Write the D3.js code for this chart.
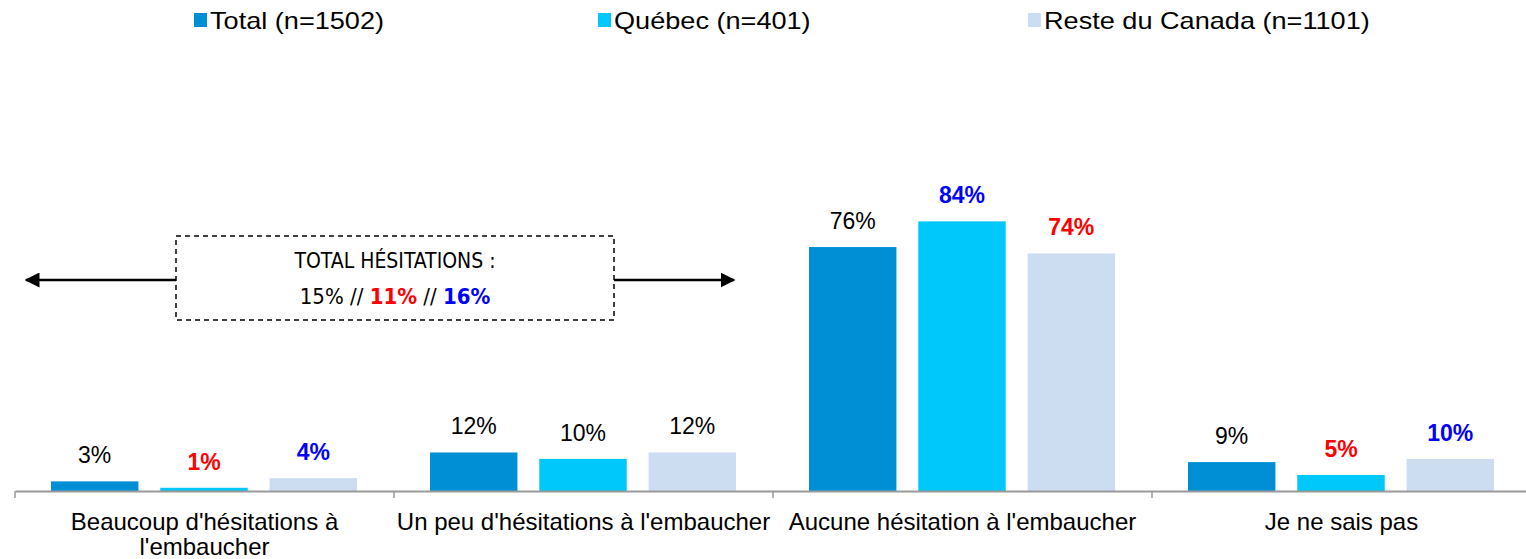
<!DOCTYPE html>
<html>
<head>
<meta charset="utf-8">
<script src="https://cdn.jsdelivr.net/npm/d3@7"></script>
<style>
  body { margin: 0; background: #fff; }
  text { font-family: "Liberation Sans", Arial, sans-serif; }
</style>
</head>
<body>
<svg class="chart"></svg>
<script>
// data
const categories = [
  "Beaucoup d'hésitations à l'embaucher",
  "Un peu d'hésitations à l'embaucher",
  "Aucune hésitation à l'embaucher",
  "Je ne sais pas"
];
const series = ["Total (n=1502)", "Québec (n=401)", "Reste du Canada (n=1101)"];
const total = [3, 12, 76, 9];
const quebec = [1, 10, 84, 5];
const resteCanada = [4, 12, 74, 10];
// significance of each label: 0 = none, -1 = lower (red), 1 = higher (blue)
const signifQuebec = [-1, 0, 1, -1];
const signifReste = [1, 0, -1, 1];
const hesitationTotals = ["15%", "11%", "16%"];
const hesitationSignif = [0, -1, 1];

const values = [total, quebec, resteCanada];
const signif = [[0, 0, 0, 0], signifQuebec, signifReste];

const width = 1526;
const height = 559;
const baseline = 491;

const colors = ["#008fd5", "#00c8fa", "#ccddf2"];
const sigColor = v => v < 0 ? "#ff0000" : v > 0 ? "#0000ff" : "#000";

const svg = d3.select(".chart")
    .attr("width", width)
    .attr("height", height);

let x0 = d3.scaleBand()
    .domain(categories)
    .range([15, 1531]);

let x1 = d3.scaleBand()
    .domain(series)
    .range([35, 341])
    .paddingInner(0.2);

let y = d3.scaleLinear()
    .domain([0, 100])
    .range([baseline, 170]);

// legend
const legendX = [194, 598, 1028];
const legend = svg.selectAll('.legend')
    .data(series)
  .enter().append('g')
    .attr('class', 'legend')
    .attr('transform', (d, i) => `translate(${legendX[i]},0)`);

legend.append('rect')
    .attr('y', 13)
    .attr('width', 13)
    .attr('height', 14)
    .attr('fill', (d, i) => colors[i]);

// the legend text is a bit stretched sideways in the original
legend.append('text')
    .attr('transform', 'translate(16,29) scale(1.13,1)')
    .style('font-size', '24px')
    .text(d => d);

// bars
const rows = categories.map((c, ci) => ({
  cat: c,
  bars: series.map((s, si) => ({ s, si, v: values[si][ci], sig: signif[si][ci] }))
}));

const group = svg.selectAll('.group')
    .data(rows)
  .enter().append('g')
    .attr('class', 'group')
    .attr('transform', d => `translate(${x0(d.cat) + 1},0)`);

group.selectAll('rect')
    .data(d => d.bars)
  .enter().append('rect')
    .attr('x', d => x1(d.s))
    .attr('y', d => y(d.v))
    .attr('width', x1.bandwidth())
    .attr('height', d => baseline - y(d.v))
    .attr('fill', d => colors[d.si]);

group.selectAll('.value')
    .data(d => d.bars)
  .enter().append('text')
    .attr('class', 'value')
    .attr('x', d => x1(d.s) + x1.bandwidth() / 2)
    .attr('y', d => y(d.v) - 18)
    .attr('text-anchor', 'middle')
    .style('font-size', '23px')
    .style('font-weight', d => d.sig ? 'bold' : 'normal')
    .attr('fill', d => sigColor(d.sig))
    .text(d => d.v + '%');

// x axis
const xAxis = d3.axisBottom(x0).tickSize(0).tickFormat('');
const axisG = svg.append('g')
    .attr('transform', `translate(0,${baseline})`)
    .call(xAxis);
axisG.select('.domain').attr('stroke', '#999').attr('stroke-width', 2);

axisG.selectAll('.sep')
    .data(categories)
  .enter().append('line')
    .attr('class', 'sep')
    .attr('x1', d => x0(d))
    .attr('x2', d => x0(d))
    .attr('y1', 0)
    .attr('y2', 7)
    .attr('stroke', '#999')
    .attr('stroke-width', 1.5);

// category labels, wrapped
const catLines = [["Beaucoup d'hésitations à", "l'embaucher"], [categories[1]], [categories[2]], [categories[3]]];
svg.selectAll('.cat')
    .data(categories)
  .enter().append('text')
    .attr('class', 'cat')
    .attr('text-anchor', 'middle')
    .style('font-size', '24px')
    .attr('transform', d => `translate(${x0(d) + x0.bandwidth() / 2},530)`)
    .selectAll('tspan')
    .data((d, i) => catLines[i])
  .enter().append('tspan')
    .attr('x', 0)
    .attr('y', (d, i) => i * 25)
    .text(d => d);

// "total hésitations" annotation
const note = svg.append('g');
svg.append('defs').append('marker')
    .attr('id', 'arrow')
    .attr('viewBox', '0 0 10 10')
    .attr('refX', 9)
    .attr('refY', 5)
    .attr('markerWidth', 6)
    .attr('markerHeight', 6)
    .attr('markerUnits', 'strokeWidth')
    .attr('orient', 'auto')
  .append('path')
    .attr('d', 'M0,0L10,5L0,10Z')
    .attr('fill', '#000');

note.append('line')
    .attr('x1', 176).attr('x2', 26)
    .attr('y1', 280).attr('y2', 280)
    .attr('stroke', '#000').attr('stroke-width', 2.5)
    .attr('marker-end', 'url(#arrow)');
note.append('line')
    .attr('x1', 614).attr('x2', 734)
    .attr('y1', 280).attr('y2', 280)
    .attr('stroke', '#000').attr('stroke-width', 2.5)
    .attr('marker-end', 'url(#arrow)');

note.append('rect')
    .attr('x', 176).attr('y', 236)
    .attr('width', 438).attr('height', 84)
    .attr('fill', '#fff')
    .attr('stroke', '#000')
    .attr('stroke-width', 1.5)
    .attr('stroke-dasharray', '5,4');

note.append('text')
    .attr('x', 395).attr('y', 268)
    .attr('text-anchor', 'middle')
    .style('font-family', '"DejaVu Sans Condensed", sans-serif')
    .style('font-size', '21px')
    .text('TOTAL HÉSITATIONS :');

const line2 = note.append('text')
    .attr('x', 395).attr('y', 304)
    .attr('text-anchor', 'middle')
    .style('font-family', '"DejaVu Sans Condensed", sans-serif')
    .style('font-size', '22px');

hesitationTotals.forEach((t, i) => {
  if (i > 0) line2.append('tspan').attr('fill', '#000').text(' // ');
  line2.append('tspan')
      .attr('fill', sigColor(hesitationSignif[i]))
      .style('font-weight', hesitationSignif[i] ? 'bold' : 'normal')
      .text(t);
});
</script>
</body>
</html>
